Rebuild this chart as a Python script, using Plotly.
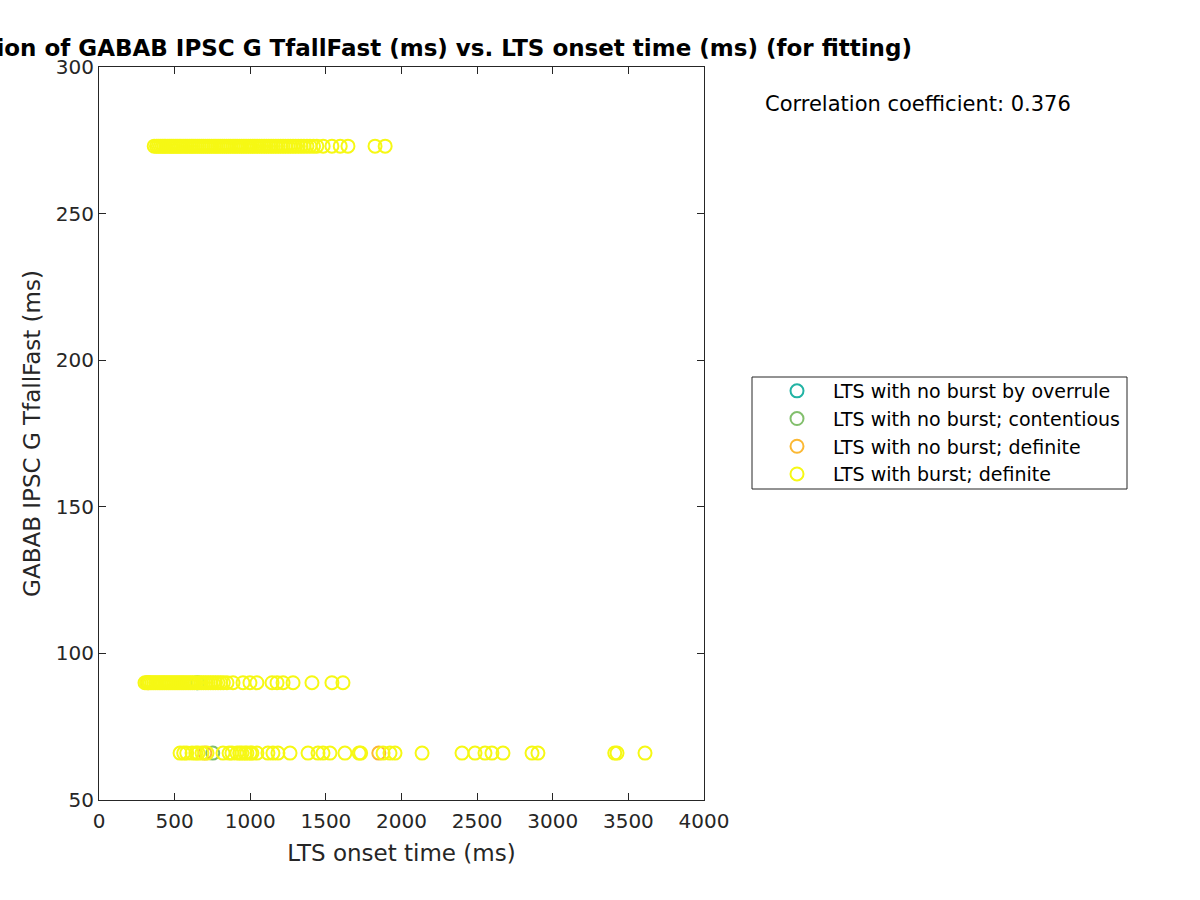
import plotly.graph_objects as go

# ---- data ----
top_y = 273
mid_y = 90
bot_y = 66

burst_top_x = [365, 380, 392, 405, 418, 430, 441, 455, 468, 480, 492, 505, 517, 530, 542, 556,
               570, 583, 597, 610, 622, 636, 650, 663, 677, 690, 704, 718, 731, 745, 760, 773,
               787, 801, 815, 829, 843, 857, 871, 886, 900, 914, 929, 943, 958, 972, 987, 1002,
               1016, 1031, 1046, 1061, 1076, 1092, 1107, 1122, 1138, 1153, 1169, 1185, 1201, 1217,
               1233, 1250, 1266, 1283, 1300, 1318, 1336, 1355, 1375, 1395, 1418, 1440, 1482, 1540,
               1595, 1646, 1825, 1892]
burst_mid_x = [304, 315, 327, 338, 350, 362, 374, 386, 398, 410, 422, 434, 446, 458, 470, 483,
               496, 509, 522, 535, 548, 561, 575, 589, 603, 617, 631, 646, 661, 676, 691, 706,
               722, 738, 754, 770, 787, 804, 822, 846, 886, 952, 998, 1044, 1144, 1177, 1217,
               1283, 1408, 1540, 1613]
burst_bot_x = [536, 560, 580, 615, 640, 655, 681, 714, 820, 860, 879, 912, 930, 945, 965, 978,
               1000, 1011, 1044, 1117, 1150, 1183, 1263, 1382, 1448, 1481, 1527, 1626, 1720, 1730,
               1878, 1924, 1957, 2136, 2400, 2486, 2552, 2598, 2671, 2863, 2902, 3410, 3425, 3610]

nob_def_x = [324, 700, 1850]
nob_def_y = [mid_y, bot_y, bot_y]

nob_cont_x = [752]
nob_cont_y = [bot_y]

nob_over_x = [650]
nob_over_y = [mid_y]

corr_text = "Correlation coefficient: 0.376"
title_text = "Correlation of GABAB IPSC G TfallFast (ms) vs. LTS onset time (ms) (for fitting)"

burst_x = burst_top_x + burst_mid_x + burst_bot_x
burst_y = [top_y] * len(burst_top_x) + [mid_y] * len(burst_mid_x) + [bot_y] * len(burst_bot_x)

FONT = "DejaVu Sans"
INK = "#262626"

# plot area in pixels
PL, PR, PT, PB = 99, 704, 67, 800
PW, PH = PR - PL, PB - PT


def px_x(p):
    return (p - PL) / PW


def px_y(p):
    return (PB - p) / PH


def mk(color):
    return dict(symbol="circle-open", size=13, color=color, line=dict(width=2, color=color))


fig = go.Figure()
fig.add_trace(go.Scatter(x=nob_over_x, y=nob_over_y, mode="markers",
                         name="LTS with no burst by overrule", marker=mk("#22b3a4")))
fig.add_trace(go.Scatter(x=nob_cont_x, y=nob_cont_y, mode="markers",
                         name="LTS with no burst; contentious", marker=mk("#82bf6c")))
fig.add_trace(go.Scatter(x=nob_def_x, y=nob_def_y, mode="markers",
                         name="LTS with no burst; definite", marker=mk("#fbb833")))
fig.add_trace(go.Scatter(x=burst_x, y=burst_y, mode="markers",
                         name="LTS with burst; definite", marker=mk("#f6f814")))

axis_common = dict(showline=True, linecolor=INK, linewidth=1, mirror="allticks",
                   ticks="inside", ticklen=7, tickcolor=INK, showgrid=False, zeroline=False,
                   tickfont=dict(family=FONT, size=20, color=INK),
                   title_font=dict(family=FONT, size=23, color=INK))

fig.update_layout(
    width=1200, height=900,
    paper_bgcolor="white", plot_bgcolor="white",
    margin=dict(l=PL, r=1200 - PR, t=PT, b=900 - PB),
    font=dict(family=FONT, color=INK),
    title=dict(text="<b>" + title_text + "</b>", x=401.5 / 1200, xref="container",
               xanchor="center", y=1 - 48 / 900, yref="container", yanchor="middle",
               font=dict(family=FONT, size=23, color="black")),
    xaxis=dict(range=[0, 4000], tickvals=[0, 500, 1000, 1500, 2000, 2500, 3000, 3500, 4000],
               ticklabelstandoff=3,
               title=dict(text="LTS onset time (ms)", standoff=12), **axis_common),
    yaxis=dict(range=[50, 300], tickvals=[50, 100, 150, 200, 250, 300],
               title=dict(text="GABAB IPSC G TfallFast (ms)", standoff=8), **axis_common),
    legend=dict(x=px_x(761), y=px_y(432.5), xanchor="left", yanchor="middle",
                borderwidth=0, bgcolor="rgba(0,0,0,0)",
                font=dict(family=FONT, size=19, color="black"), itemwidth=62),
    showlegend=True,
    shapes=[dict(type="rect", xref="paper", yref="paper",
                 x0=px_x(752), x1=px_x(1127), y0=px_y(489), y1=px_y(377),
                 line=dict(color=INK, width=1), fillcolor="rgba(0,0,0,0)", layer="below")],
    annotations=[dict(text=corr_text, xref="paper", yref="paper",
                      x=px_x(763), y=px_y(104), xanchor="left", yanchor="middle",
                      showarrow=False, font=dict(family=FONT, size=21, color="black"))],
)

fig.write_html("out.html")
